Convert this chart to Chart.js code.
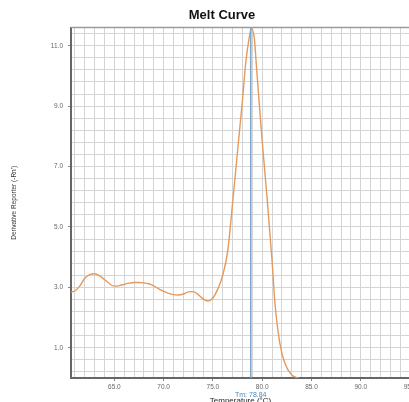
<!DOCTYPE html>
<html>
<head>
<meta charset="utf-8">
<script src="https://cdn.jsdelivr.net/npm/chart.js@4.4.1/dist/chart.umd.min.js"></script>
<style>
  html, body { margin: 0; padding: 0; background: #fff; overflow: hidden; }
  #wrap { width: 444px; height: 408px; }
</style>
</head>
<body>
<div id="wrap"><canvas id="meltChart" width="444" height="408"></canvas></div>
<script>
// Melt curve data
const temps = [60.6, 61.0, 61.5, 62.0, 62.5, 63.0, 63.5, 64.0, 64.5, 65.0, 65.5, 66.0, 66.5, 67.0, 67.5,
    68.0, 68.5, 69.0, 69.5, 70.0, 70.5, 71.0, 71.5, 72.0, 72.5, 73.0, 73.5, 74.0, 74.5, 75.0, 75.5,
    76.0, 76.5, 77.0, 77.6, 78.0, 78.3, 78.6, 78.9, 79.2, 79.4, 79.7, 80.0, 80.5, 81.0, 81.3,
    81.8, 82.3, 83.0, 83.7];
const deriv = [2.85, 2.88, 3.05, 3.30, 3.42, 3.45, 3.38, 3.26, 3.12, 3.04, 3.06, 3.10, 3.14, 3.16, 3.16,
    3.15, 3.12, 3.05, 2.95, 2.87, 2.80, 2.76, 2.75, 2.78, 2.85, 2.86, 2.76, 2.62, 2.55, 2.65, 2.95,
    3.40, 4.20, 5.80, 7.85, 9.20, 10.33, 11.10, 11.56, 11.25, 10.40, 9.10, 7.85, 5.95, 3.89, 2.46,
    1.14, 0.49, 0.10, 0.00];
const tm = 78.84;

// Axis labels
const xLabels = [65, 70, 75, 80, 85, 90, 95];
const yLabels = [1, 3, 5, 7, 9, 11];
const xMin = 60.6, xMax = 95.0;
const yMin = 0, yMax = 11.6;

const fontFam = '"Liberation Sans", Arial, sans-serif';
const gridColor = '#d4d4d4';

const isLabel = (list, v) => list.some(l => Math.abs(l - v) < 1e-6);

// Tm label under the x axis, and top frame line
const extras = {
    id: 'extras',
    beforeDatasetsDraw(chart) {
        const a = chart.chartArea;
        const ctx = chart.ctx;
        ctx.save();
        ctx.strokeStyle = '#9a9a9a';
        ctx.lineWidth = 1.5;
        ctx.beginPath();
        ctx.moveTo(a.left, a.top);
        ctx.lineTo(a.right, a.top);
        ctx.stroke();
        ctx.restore();
    },
    afterDraw(chart) {
        const ctx = chart.ctx;
        const x = chart.scales.x.getPixelForValue(tm);
        ctx.save();
        ctx.font = '7px ' + fontFam;
        ctx.fillStyle = '#4f86bb';
        ctx.textAlign = 'center';
        ctx.textBaseline = 'middle';
        ctx.fillText('Tm: ' + tm.toFixed(2), x, 395);
        ctx.restore();
    }
};

const ctx = document.getElementById('meltChart').getContext('2d');
new Chart(ctx, {
    type: 'line',
    data: {
        datasets: [
            {
                label: 'Tm',
                data: [{ x: tm, y: yMin }, { x: tm, y: yMax }],
                borderColor: '#7ea9cc',
                borderWidth: 1.6,
                pointRadius: 0
            },
            {
                label: 'Melt',
                data: temps.map((t, i) => ({ x: t, y: deriv[i] })),
                borderColor: '#e49a5c',
                borderWidth: 1.4,
                pointRadius: 0,
                cubicInterpolationMode: 'monotone',
                fill: false
            }
        ]
    },
    options: {
        responsive: false,
        animation: false,
        layout: { padding: 0 },
        plugins: {
            legend: { display: false },
            tooltip: { enabled: false },
            title: {
                display: true,
                text: 'Melt Curve',
                color: '#111',
                font: { family: fontFam, size: 13, weight: 'bold' },
                padding: { top: 8, bottom: 4 }
            }
        },
        scales: {
            x: {
                type: 'linear',
                min: xMin,
                max: xMax,
                afterBuildTicks: (scale) => {
                    const t = [];
                    for (let v = Math.ceil(xMin); v <= xMax; v++) t.push({ value: v });
                    scale.ticks = t;
                },
                afterFit: (scale) => { scale.height = 30; },
                ticks: {
                    autoSkip: false,
                    maxRotation: 0,
                    padding: 2,
                    color: '#666',
                    font: { family: fontFam, size: 6.5 },
                    callback: (v) => isLabel(xLabels, v) ? v.toFixed(1) : ''
                },
                grid: {
                    color: gridColor,
                    lineWidth: 1,
                    tickLength: 3,
                    tickColor: (c) => (c.tick && isLabel(xLabels, c.tick.value)) ? '#888' : 'rgba(0,0,0,0)'
                },
                border: { color: '#666', width: 2 },
                title: {
                    display: true,
                    text: 'Temperature (°C)',
                    color: '#222',
                    font: { family: fontFam, size: 8 },
                    padding: { top: 0, bottom: 2 }
                }
            },
            y: {
                min: yMin,
                max: yMax,
                afterBuildTicks: (scale) => {
                    const t = [];
                    for (let k = 0; 0.2 + 0.4 * k < yMax; k++) t.push({ value: +(0.2 + 0.4 * k).toFixed(1) });
                    scale.ticks = t;
                },
                afterFit: (scale) => { scale.width = 71; },
                ticks: {
                    autoSkip: false,
                    padding: 5,
                    color: '#666',
                    font: { family: fontFam, size: 6.5 },
                    callback: (v) => isLabel(yLabels, v) ? v.toFixed(1) : ''
                },
                grid: {
                    color: gridColor,
                    lineWidth: 1,
                    tickLength: 3,
                    tickColor: (c) => (c.tick && isLabel(yLabels, c.tick.value)) ? '#888' : 'rgba(0,0,0,0)'
                },
                border: { color: '#666', width: 2 },
                title: {
                    display: true,
                    text: "Derivative Reporter (-Rn')",
                    color: '#333',
                    font: { family: fontFam, size: 6.5 },
                    padding: { top: 10, bottom: 0 }
                }
            },
            // empty right-hand axis, only reserves the space past the plot
            pad: {
                type: 'linear',
                position: 'right',
                display: true,
                grid: { display: false },
                ticks: { display: false },
                border: { display: false },
                afterFit: (scale) => { scale.width = 34; }
            }
        }
    },
    plugins: [extras]
});
</script>
</body>
</html>
